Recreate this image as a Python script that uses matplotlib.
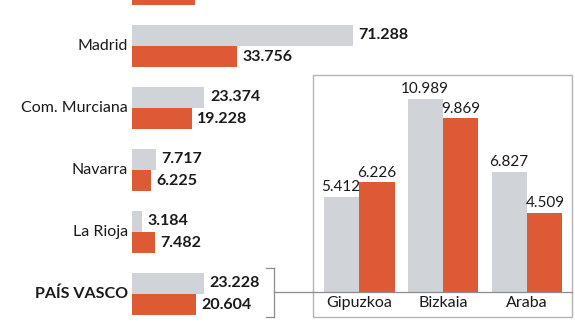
import matplotlib.pyplot as plt
from matplotlib.lines import Line2D
from matplotlib.patches import Rectangle
import numpy as np

plt.rcParams["font.family"] = ["Lato", "DejaVu Sans"]

GRAY = "#d0d3d8"
ORANGE = "#de5a34"
TEXT = "#1a1a1a"
FRAME = "#b4b4b4"

# Communities (top row is cut at the page edge, only its orange bar shows)
regions = ["", "Madrid", "Com. Murciana", "Navarra", "La Rioja", "PAÍS VASCO"]
gray_vals = [np.nan, 71288, 23374, 7717, 3184, 23228]
orange_vals = [20264, 33756, 19228, 6225, 7482, 20604]

# Basque provinces
provinces = ["Gipuzkoa", "Bizkaia", "Araba"]
prov_gray = [5412, 10989, 6827]
prov_orange = [6226, 9869, 4509]

W, H = 575, 323


def fmt(v):
    return f"{int(v):,}".replace(",", ".")


def fx(px):
    return px / W


def fy(py):
    return 1 - py / H


fig = plt.figure(figsize=(W / 100, H / 100), dpi=100)
fig.patch.set_facecolor("white")

# ---- left: horizontal bars per community ----
ax = fig.add_axes([fx(132), 0, fx(300), 1])
ax.set_xlim(0, 300 / 3.1 * 1000)
ax.set_ylim(5.468, 0.258)
ax.axis("off")

rows = np.arange(len(regions))
bh = 0.339
off = 0.177
for i in rows:
    g, o = gray_vals[i], orange_vals[i]
    if not np.isnan(g):
        ax.barh(i - off, g, height=bh, color=GRAY, lw=0)
        ax.annotate(fmt(g), (g, i - off), xytext=(4, 0), textcoords="offset points",
                    ha="left", va="center", fontsize=11.5, fontweight="bold", color=TEXT)
    ax.barh(i + off, o, height=bh, color=ORANGE, lw=0)
    ax.annotate(fmt(o), (o, i + off), xytext=(4, 0), textcoords="offset points",
                ha="left", va="center", fontsize=11.5, fontweight="bold", color=TEXT)
    if regions[i]:
        bold = regions[i].isupper()
        ax.annotate(regions[i], (0, i), xytext=(-3, 0), textcoords="offset points",
                    ha="right", va="center", fontsize=11.5, color=TEXT,
                    fontweight="bold" if bold else "normal")

# ---- right: vertical bars per province ----
box_l, box_r, box_t, box_b = 313, 572, 75, 317
base = 292
ax2 = fig.add_axes([fx(box_l), fy(base), fx(box_r - box_l), (base - box_t) / H])
ax2.set_xlim(-0.548, 2.536)
ax2.set_ylim(0, (base - box_t) / 17.6 * 1000)
ax2.axis("off")

x = np.arange(len(provinces))
bw = 0.417
xo = 0.214
ax2.bar(x - xo, prov_gray, width=bw, color=GRAY, lw=0)
ax2.bar(x + xo, prov_orange, width=bw, color=ORANGE, lw=0)
for j in x:
    ax2.annotate(fmt(prov_gray[j]), (j - xo, prov_gray[j]), xytext=(0, 2),
                 textcoords="offset points", ha="center", va="bottom",
                 fontsize=11, color=TEXT)
    ax2.annotate(fmt(prov_orange[j]), (j + xo, prov_orange[j]), xytext=(0, 2),
                 textcoords="offset points", ha="center", va="bottom",
                 fontsize=11, color=TEXT)
    ax2.annotate(provinces[j], (j, 0), xytext=(0, -3), textcoords="offset points",
                 ha="center", va="top", fontsize=11.5, color=TEXT)

# frame round the province chart
fig.add_artist(Rectangle((fx(box_l), fy(box_b)), fx(box_r - box_l), (box_b - box_t) / H,
                         transform=fig.transFigure, fill=False, ec=FRAME, lw=1))

# bracket linking PAÍS VASCO to the provinces
bx = 274
for seg in [((bx - 8, bx), (268, 268)), ((bx, bx), (268, 317)),
            ((bx - 8, bx), (317, 317)), ((bx, box_r), (base, base))]:
    fig.add_artist(Line2D([fx(p) for p in seg[0]], [fy(p) for p in seg[1]],
                          transform=fig.transFigure, color="#8c8c8c", lw=0.9))

fig.savefig("out.png", dpi=100)
